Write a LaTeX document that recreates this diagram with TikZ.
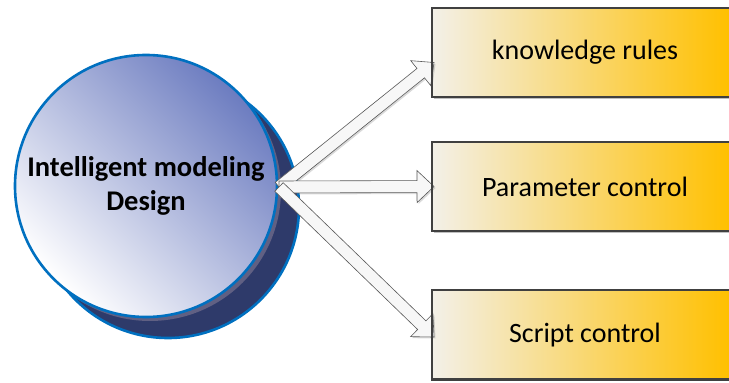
\documentclass[tikz,border=0pt]{standalone}
\usepackage{fontspec}
\setmainfont{Carlito}
\usepackage{tikz}
\usetikzlibrary{calc, shadows}
\definecolor{rimblue}{RGB}{0,112,192}
\definecolor{navyback}{RGB}{46,58,106}
\definecolor{discblue}{RGB}{108,124,192}
\definecolor{discmid}{RGB}{180,188,224}
\definecolor{boxcream}{RGB}{243,240,232}
\definecolor{boxgold}{RGB}{255,192,0}
\tikzset{
  core disc/.style={
    circle,
    draw=rimblue,
    line width=2.6pt,
    minimum size=262pt,
    inner sep=0pt,
    align=center,
    font=\bfseries\fontsize{28.5}{34}\selectfont,
    top color=discblue,
    middle color=discmid,
    bottom color=white,
    shading angle=-45
  },
  back disc/.style={
    fill=navyback,
    draw=rimblue,
    line width=2.6pt
  },
  info box/.style={
    rectangle,
    anchor=west,
    minimum width=297pt,
    minimum height=89pt,
    left color=boxcream,
    right color=boxgold
  },
  box edge/.style={
    draw=black!75,
    line width=2.4pt
  },
  box text/.style={
    font=\fontsize{28}{33}\selectfont
  },
  block arrow/.style={
    draw=black!65,
    line width=0.6pt,
    fill=black!3,
    drop shadow={shadow xshift=1.5pt, shadow yshift=-1.5pt, opacity=0.3}
  }
}
% hollow block arrow from #1 to #2
\newcommand{\blockarrow}[2]{%
  \coordinate (ba-h) at ($(#2)!17pt!(#1)$);
  \draw[block arrow] ($(#1)!6pt!90:(#2)$) -- ($(ba-h)!6pt!-90:(#1)$)
    -- ($(ba-h)!16pt!-90:(#1)$) -- (#2) -- ($(ba-h)!16pt!90:(#1)$)
    -- ($(ba-h)!6pt!90:(#1)$) -- ($(#1)!6pt!-90:(#2)$) -- cycle;
}
\begin{document}
\begin{tikzpicture}[x=1pt, y=1pt]
  \useasboundingbox (0,0) rectangle (729,383);
  \clip (0,0) rectangle (729,383);

  % disc with its dark back and grey rim
  \draw[back disc] (168,176) circle (131);
  \fill[black!45!blue!25!gray] (150,193) circle (131);
  \node[core disc] (core) at (146,197) {Intelligent modeling\\Design};

  % boxes on the right, cut off by the page edge
  \coordinate (src) at (279,196);
  \foreach \b/\y in {rules/330.5, param/196.5, script/48} {
    \fill[black!25] (434,\y-46.5) rectangle (729,\y+42.5);
    \node[info box] (\b) at (432,\y) {};
  }

  % arrows
  \coordinate (rules-tip) at ($(rules.west)+(2,-10)$);
  \coordinate (param-tip) at ($(param.west)+(2,0)$);
  \coordinate (script-tip) at ($(script.west)+(2,-2)$);
  \blockarrow{src}{rules-tip}
  \blockarrow{src}{param-tip}
  \blockarrow{src}{script-tip}

  % open box edges, then the labels
  \foreach \b/\t in {rules/knowledge rules, param/Parameter control, script/Script control} {
    \draw[box edge] ($(\b.north east)+(5,0)$) -- (\b.north west) -- (\b.south west) -- ($(\b.south east)+(5,0)$);
    \node[box text] at ($(\b.west)+(153,0)$) {\t};
  }
\end{tikzpicture}
\end{document}
